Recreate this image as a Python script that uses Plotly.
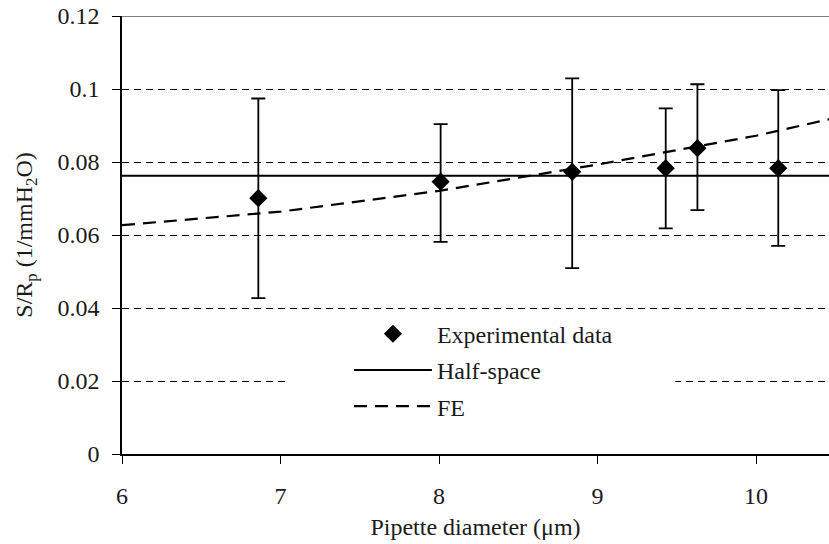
import plotly.graph_objects as go

# Pipette diameter (um) and measured S/Rp with error bar limits
diameter = [6.86, 8.01, 8.84, 9.43, 9.63, 10.14]
s_rp = [0.0701, 0.0746, 0.0773, 0.0783, 0.0838, 0.0783]
s_rp_high = [0.0974, 0.0904, 0.1029, 0.0947, 0.1013, 0.0997]
s_rp_low = [0.0427, 0.0581, 0.0509, 0.0618, 0.0668, 0.0570]

# Half-space analytical value (constant)
half_space_x = [6.0, 10.46]
half_space_y = [0.0762, 0.0762]

# Finite element prediction
fe_x = [6.0, 7.0, 8.0, 9.0, 10.0, 10.46]
fe_y = [0.0627, 0.0664, 0.0721, 0.0793, 0.0872, 0.0917]

y_ticks = [0, 0.02, 0.04, 0.06, 0.08, 0.1, 0.12]
y_tick_text = ["0", "0.02", "0.04", "0.06", "0.08", "0.1", "0.12"]
x_ticks = [6, 7, 8, 9, 10]

FONT = "Liberation Serif"
TEXT = "#1a1a1a"

err_plus = [h - v for h, v in zip(s_rp_high, s_rp)]
err_minus = [v - l for v, l in zip(s_rp, s_rp_low)]

fig = go.Figure()

fig.add_trace(go.Scatter(
    x=diameter, y=s_rp, mode="markers", name="Experimental data",
    legendgroup="a",
    marker=dict(symbol="diamond", size=14, color="black"),
    error_y=dict(type="data", symmetric=False, array=err_plus,
                 arrayminus=err_minus, color="black", thickness=1.8, width=7),
))
fig.add_trace(go.Scatter(
    x=half_space_x, y=half_space_y, mode="lines", name="Half-space",
    legendgroup="b",
    line=dict(color="black", width=2),
))
fig.add_trace(go.Scatter(
    x=fe_x, y=fe_y, mode="lines", name="FE",
    legendgroup="c",
    line=dict(color="black", width=2.2, dash="13px,8px"),
))

shapes = [
    # white panel behind the legend, hiding the grid there
    dict(type="rect", xref="x", yref="y", x0=7.03, x1=9.49, y0=0.004, y1=0.037,
         fillcolor="white", line=dict(width=0), layer="between"),
    # solid top border at 0.12
    dict(type="line", xref="paper", yref="y", x0=-0.011, x1=1, y0=0.12, y1=0.12,
         line=dict(color="black", width=1.2)),
]

fig.update_layout(
    width=829, height=544,
    margin=dict(l=122, r=0, t=16, b=90),
    paper_bgcolor="white", plot_bgcolor="white",
    font=dict(family=FONT, size=24, color=TEXT),
    showlegend=True,
    legend=dict(x=0.321, y=0.325, xanchor="left", yanchor="top",
                bgcolor="rgba(0,0,0,0)", itemwidth=78,
                tracegroupgap=2, traceorder="grouped",
                font=dict(family=FONT, size=24, color=TEXT)),
    shapes=shapes,
    xaxis=dict(
        range=[6, 10.46], tickvals=x_ticks, ticks="outside", ticklen=8,
        tickwidth=1.2, tickcolor="black", showline=True, linecolor="black",
        linewidth=1.5, showgrid=False, zeroline=False,
        ticklabelstandoff=11,
        tickfont=dict(family=FONT, size=24, color=TEXT),
        title=dict(text="Pipette diameter (μm)", standoff=11,
                   font=dict(family=FONT, size=24, color=TEXT)),
    ),
    yaxis=dict(
        range=[0, 0.12], tickvals=y_ticks, ticktext=y_tick_text,
        ticks="outside", ticklen=8, tickwidth=1.2, tickcolor="black",
        showline=True, linecolor="black", linewidth=1.5,
        showgrid=True, gridcolor="black", gridwidth=1, griddash="7px,5px",
        zeroline=False, ticklabelstandoff=8,
        tickfont=dict(family=FONT, size=24, color=TEXT),
        title=dict(text="S/R<sub>p</sub> (1/mmH<sub>2</sub>O)", standoff=18,
                   font=dict(family=FONT, size=24, color=TEXT)),
    ),
)

fig.write_html("out.html")
